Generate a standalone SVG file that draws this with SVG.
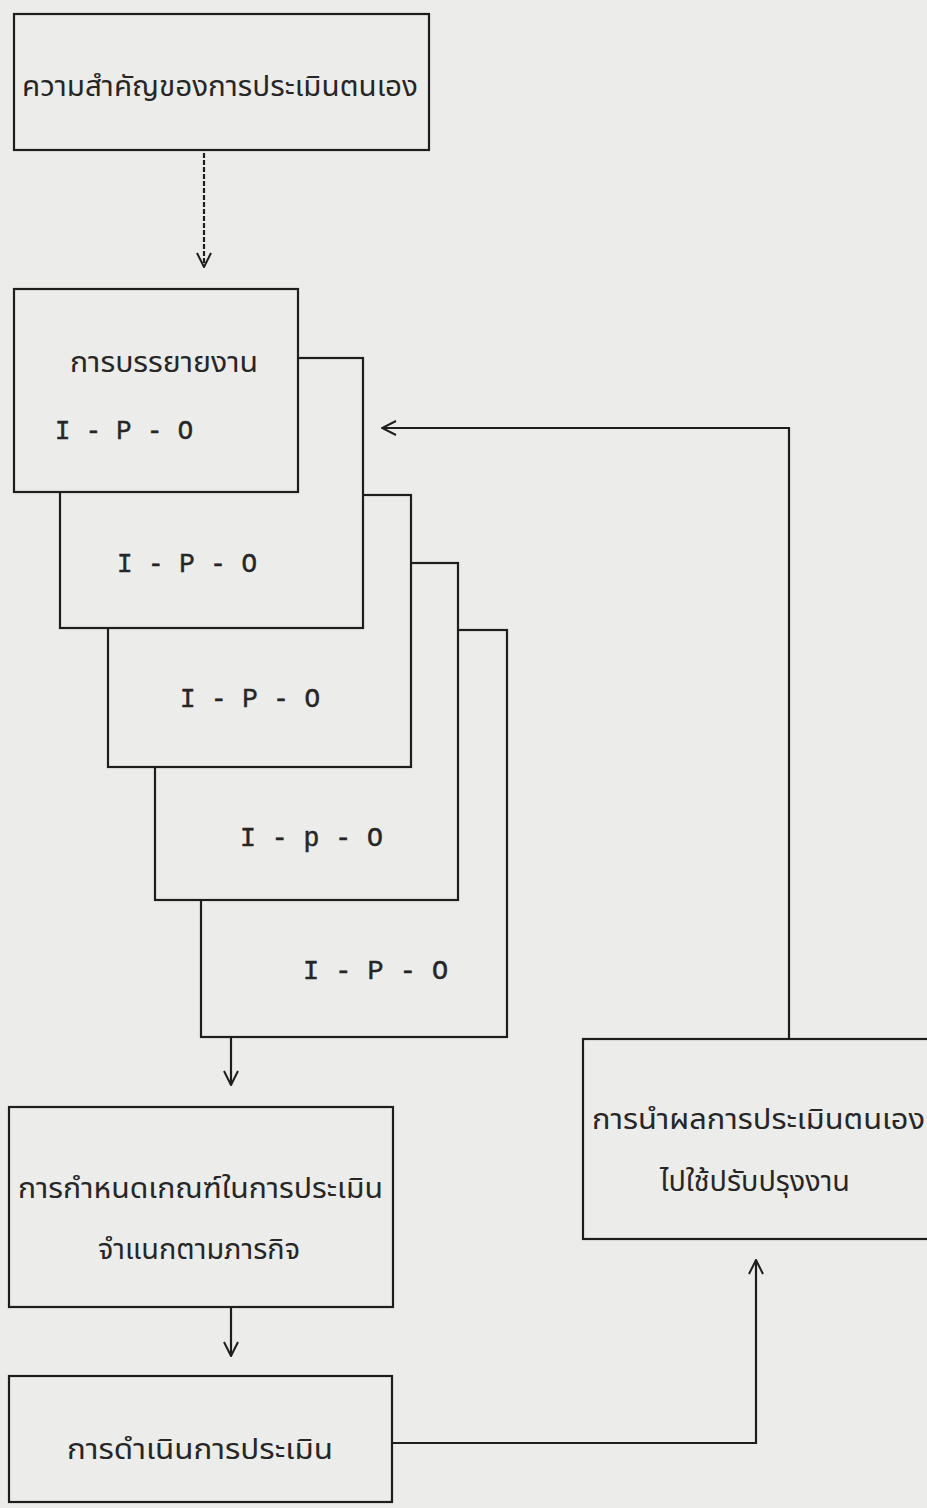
<svg xmlns="http://www.w3.org/2000/svg" width="927" height="1508" viewBox="0 0 927 1508">
<style>
.bg{fill:#ececea}
.box{fill:#ececea;stroke:#1e1e1e;stroke-width:2.2}
.ln{fill:none;stroke:#1e1e1e;stroke-width:2.2}
.th{font-family:"Noto Sans Thai","Noto Sans","DejaVu Sans",sans-serif;font-size:29px;fill:#262626}
.mono{font-family:"Liberation Mono","DejaVu Sans Mono",monospace;font-size:27px;fill:#262626;stroke:#262626;stroke-width:0.5}
</style>
<defs>
<marker id="ah" viewBox="0 0 16 16" refX="15" refY="8" markerUnits="userSpaceOnUse" markerWidth="16" markerHeight="16" orient="auto">
<path d="M1,1 L15,8 L1,15" fill="none" stroke="#1e1e1e" stroke-width="2"/>
</marker>
</defs>
<rect class="bg" x="0" y="0" width="927" height="1508"/>

<g id="n1">
<rect class="box" x="14" y="14" width="415" height="136"/>
<text class="th" x="22" y="96" textLength="396" lengthAdjust="spacingAndGlyphs">ความสำคัญของการประเมินตนเอง</text>
</g>

<g id="n6">
<rect class="box" x="201" y="630" width="306" height="407"/>
<text class="mono" x="303" y="979" textLength="145" lengthAdjust="spacingAndGlyphs">I - P - O</text>
</g>
<g id="n5">
<rect class="box" x="155" y="563" width="303" height="337"/>
<text class="mono" x="240" y="846" textLength="143" lengthAdjust="spacingAndGlyphs">I - p - O</text>
</g>
<g id="n4">
<rect class="box" x="108" y="495" width="303" height="272"/>
<text class="mono" x="180" y="707" textLength="140" lengthAdjust="spacingAndGlyphs">I - P - O</text>
</g>
<g id="n3">
<rect class="box" x="60" y="358" width="303" height="270"/>
<text class="mono" x="117" y="572" textLength="140" lengthAdjust="spacingAndGlyphs">I - P - O</text>
</g>
<g id="n2">
<rect class="box" x="14" y="289" width="284" height="203"/>
<text class="th" x="70" y="372" textLength="188" lengthAdjust="spacingAndGlyphs">การบรรยายงาน</text>
<text class="mono" x="55" y="439" textLength="138" lengthAdjust="spacingAndGlyphs">I - P - O</text>
</g>

<g id="n7">
<rect class="box" x="9" y="1107" width="384" height="200"/>
<text class="th" x="18" y="1198" textLength="365" lengthAdjust="spacingAndGlyphs">การกำหนดเกณฑ์ในการประเมิน</text>
<text class="th" x="98" y="1259" textLength="202" lengthAdjust="spacingAndGlyphs">จำแนกตามภารกิจ</text>
</g>

<g id="n8">
<rect class="box" x="9" y="1376" width="383" height="126"/>
<text class="th" x="67" y="1459" textLength="266" lengthAdjust="spacingAndGlyphs">การดำเนินการประเมิน</text>
</g>

<g id="n9">
<rect class="box" x="583" y="1039" width="360" height="200"/>
<text class="th" x="592" y="1129" textLength="333" lengthAdjust="spacingAndGlyphs">การนำผลการประเมินตนเอง</text>
<text class="th" x="660" y="1191" textLength="190" lengthAdjust="spacingAndGlyphs">ไปใช้ปรับปรุงงาน</text>
</g>

<g id="connectors">
<path class="ln" d="M204,153 V267" stroke-dasharray="5 2" marker-end="url(#ah)"/>
<path class="ln" d="M231,1038 V1085" marker-end="url(#ah)"/>
<path class="ln" d="M231,1308 V1356" marker-end="url(#ah)"/>
<path class="ln" d="M392,1443 H756 V1260" marker-end="url(#ah)"/>
<path class="ln" d="M789,1039 V428 H382" marker-end="url(#ah)"/>
</g>
</svg>
